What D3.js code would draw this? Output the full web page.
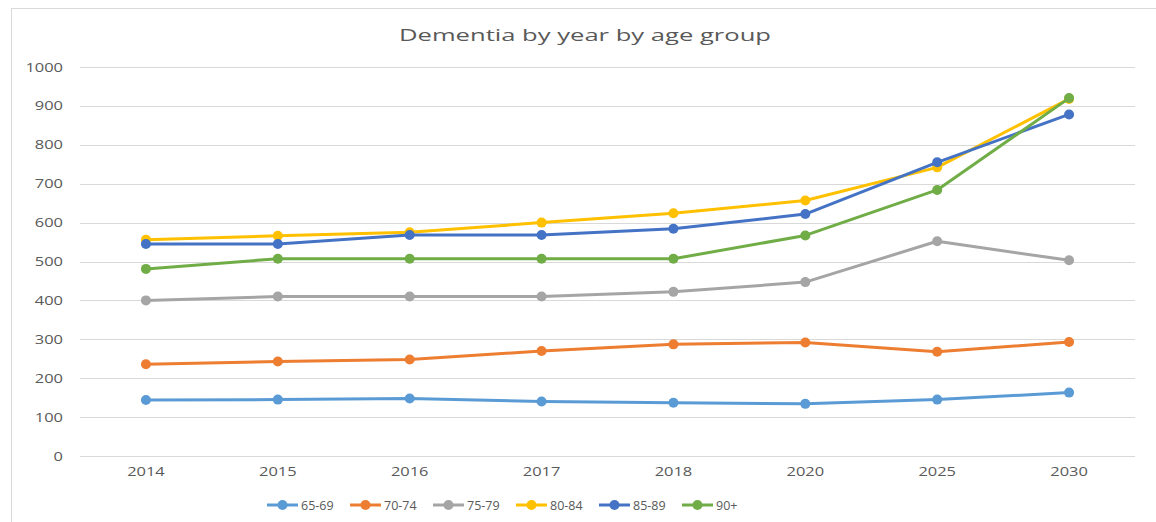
<!DOCTYPE html>
<html lang="en">
<head>
  <meta charset="UTF-8" />
  <title>Dementia by year by age group</title>
  <script src="https://d3js.org/d3.v7.min.js"></script>
  <style>
    body { margin: 0; background: white; }
    svg { display: block; }
  </style>
</head>
<body>
  <svg id="chart" width="1156" height="522"></svg>
  <script>
    // data
    const years = ['2014', '2015', '2016', '2017', '2018', '2020', '2025', '2030'];
    const groups = ['65-69', '70-74', '75-79', '80-84', '85-89', '90+'];
    const colors = ['#5B9BD5', '#ED7D31', '#A5A5A5', '#FFC000', '#4472C4', '#70AD47'];
    const yTicks = [0, 100, 200, 300, 400, 500, 600, 700, 800, 900, 1000];

    const v6569 = [144, 145, 148, 140, 137, 134, 145, 163];
    const v7074 = [236, 243, 248, 270, 287, 292, 268, 293];
    const v7579 = [400, 410, 410, 410, 422, 447, 552, 503];
    const v8084 = [556, 566, 575, 600, 624, 657, 742, 918];
    const v8589 = [545, 545, 568, 568, 584, 622, 755, 878];
    const v90 = [481, 507, 507, 507, 507, 567, 684, 920];

    const seriesValues = [v6569, v7074, v7579, v8084, v8589, v90];
    const series = groups.map((g, i) => ({ name: g, color: colors[i], values: seriesValues[i] }));

    const svg = d3.select('#chart');
    const font = '"Open Sans", "Liberation Sans", sans-serif';
    const textColor = '#595959';

    // chart frame
    svg.append('rect')
      .attr('x', 11.5).attr('y', 8.5)
      .attr('width', 1160).attr('height', 530)
      .attr('fill', 'white')
      .attr('stroke', '#d9d9d9')
      .attr('stroke-width', 1);

    const x = d3.scaleBand().domain(years).range([80, 1135]).padding(0);
    const y = d3.scaleLinear().domain([0, 1000]).range([456, 67]);

    // title (the reference is stretched sideways, so fix its width)
    svg.append('text')
      .attr('x', 585).attr('y', 41)
      .attr('text-anchor', 'middle')
      .attr('font-family', font)
      .attr('font-size', '16.5px')
      .attr('fill', textColor)
      .attr('textLength', 372)
      .attr('lengthAdjust', 'spacingAndGlyphs')
      .text('Dementia by year by age group');

    // gridlines
    svg.append('g')
      .selectAll('line')
      .data(yTicks)
      .join('line')
      .attr('x1', 80).attr('x2', 1135)
      .attr('y1', d => Math.round(y(d)) + 0.5)
      .attr('y2', d => Math.round(y(d)) + 0.5)
      .attr('stroke', '#d9d9d9')
      .attr('stroke-width', 1);

    function styleLabels(sel) {
      sel.attr('font-family', font)
        .attr('font-size', '12.5px')
        .attr('fill', textColor)
        .attr('textLength', function() { return this.textContent.length * 9.4; })
        .attr('lengthAdjust', 'spacingAndGlyphs');
    }

    // y axis labels
    const yAxis = svg.append('g')
      .attr('transform', 'translate(63,0)')
      .call(d3.axisLeft(y).tickValues(yTicks).tickFormat(d3.format('d')).tickSize(0).tickPadding(0));
    yAxis.select('.domain').remove();
    yAxis.selectAll('text').call(styleLabels);

    // x axis labels
    const xAxis = svg.append('g')
      .attr('transform', 'translate(0,467)')
      .call(d3.axisBottom(x).tickSize(0).tickPadding(0));
    xAxis.select('.domain').remove();
    xAxis.selectAll('text').call(styleLabels);

    const cx = d => x(d) + x.bandwidth() / 2;
    const line = d3.line()
      .x((d, i) => cx(years[i]))
      .y(d => y(d));

    const lines = svg.append('g')
      .selectAll('g')
      .data(series)
      .join('g');

    lines.append('path')
      .attr('d', d => line(d.values))
      .attr('fill', 'none')
      .attr('stroke', d => d.color)
      .attr('stroke-width', 3)
      .attr('stroke-linejoin', 'round')
      .attr('stroke-linecap', 'round');

    lines.selectAll('circle')
      .data(d => d.values.map((v, i) => ({ v, i, color: d.color })))
      .join('circle')
      .attr('cx', d => cx(years[d.i]))
      .attr('cy', d => y(d.v))
      .attr('r', 5)
      .attr('fill', d => d.color);

    // legend
    const legendX = d3.scalePoint().domain(groups).range([267, 682]);
    const legend = svg.append('g')
      .selectAll('g')
      .data(series)
      .join('g')
      .attr('transform', d => `translate(${legendX(d.name)},505)`);

    legend.append('line')
      .attr('x1', 0).attr('x2', 31)
      .attr('stroke', d => d.color)
      .attr('stroke-width', 3);
    legend.append('circle')
      .attr('cx', 15.5).attr('r', 5)
      .attr('fill', d => d.color);
    legend.append('text')
      .attr('x', 34).attr('y', 4.5)
      .attr('font-family', font)
      .attr('font-size', '12.5px')
      .attr('fill', textColor)
      .text(d => d.name);
  </script>
</body>
</html>
